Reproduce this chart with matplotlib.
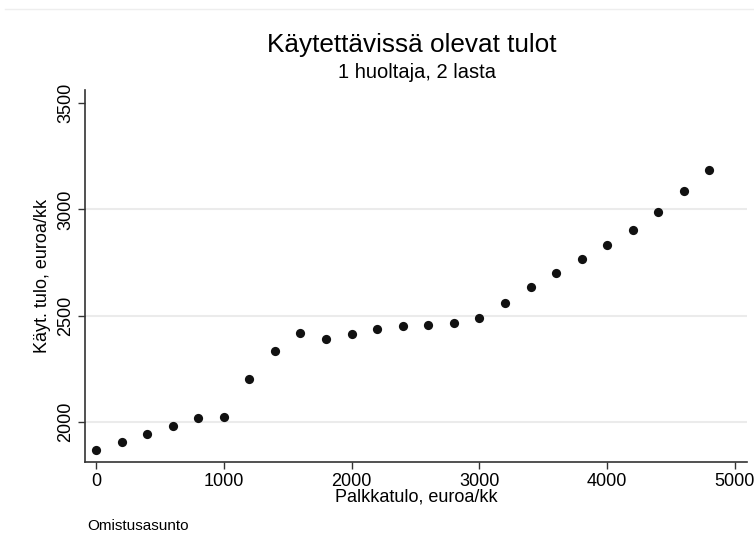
import numpy as np
from matplotlib import pyplot as plt
from matplotlib.lines import Line2D

plt.rcParams['font.family'] = ['Liberation Sans', 'DejaVu Sans']

# palkkatulo (x) ja käytettävissä olevat tulot (y)
palkka = [0, 200, 400, 600, 800, 1000, 1200, 1400, 1600, 1800, 2000, 2200,
          2400, 2600, 2800, 3000, 3200, 3400, 3600, 3800, 4000, 4200, 4400,
          4600, 4800]
kayt_tulo = [1868, 1906, 1944, 1981, 2019, 2023, 2202, 2334, 2420, 2390, 2414,
             2437, 2451, 2456, 2465, 2489, 2560, 2635, 2701, 2767, 2833, 2904,
             2988, 3087, 3186]
xticks = [0, 1000, 2000, 3000, 4000, 5000]
yticks = [2000, 2500, 3000, 3500]


def print_graph():
    fig = plt.figure(figsize=(7.54, 5.52), dpi=100)
    ax = fig.add_axes([85/754, 1-462/552, (747-85)/754, (462-90)/552])

    # gridlines
    for yv in [2000, 2500, 3000]:
        ax.axhline(yv, color='#ebebeb', lw=1.5, zorder=0)

    ax.scatter(palkka, kayt_tulo, s=44, color='#111111', zorder=3, linewidths=0)

    ax.set_xlim(-86, 5094)
    ax.set_ylim(1812, 3561)
    ax.set_xticks(xticks)
    ax.set_yticks(yticks)
    ax.tick_params(labelsize=13, length=5, width=1, color='#333333', pad=3)
    for lab in ax.get_yticklabels():
        lab.set_rotation(90)
        lab.set_va('center')
    for s in ['top', 'right']:
        ax.spines[s].set_visible(False)
    for s in ['left', 'bottom']:
        ax.spines[s].set_color('#333333')
        ax.spines[s].set_linewidth(1.2)

    ax.set_xlabel('Palkkatulo, euroa/kk', fontsize=13, labelpad=-1)
    ax.set_ylabel('Käyt. tulo, euroa/kk', fontsize=13, labelpad=4)

    fig.text(412/754, 1-45/552, 'Käytettävissä olevat tulot', fontsize=18.8,
             ha='center', va='center')
    fig.text(417/754, 1-73/552, '1 huoltaja, 2 lasta', fontsize=14.5,
             ha='center', va='center')
    fig.text(87/754, 1-526/552, 'Omistusasunto', fontsize=11,
             ha='left', va='center')

    fig.add_artist(Line2D([5/754, 1], [1-9/552, 1-9/552], color='#eeeeee', lw=1))

    plt.savefig('out.png', dpi=100)
    plt.close()


print_graph()
